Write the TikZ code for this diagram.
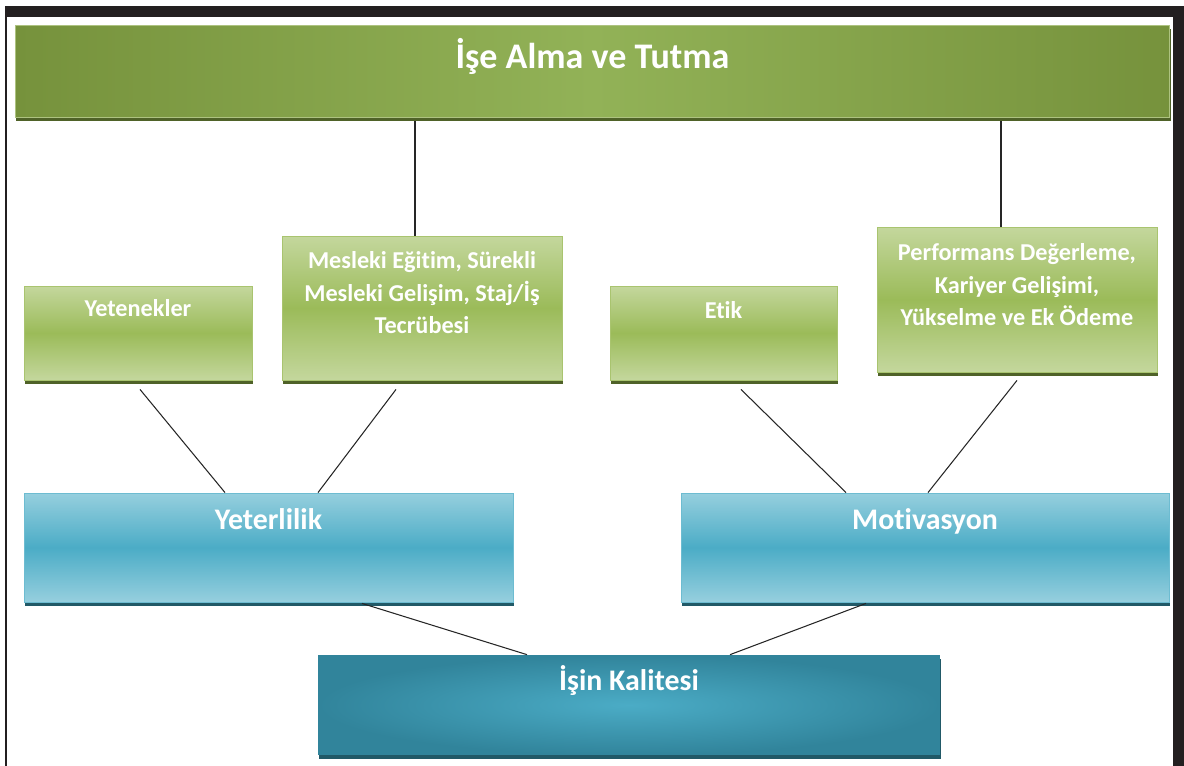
\documentclass[tikz,border=0pt]{standalone}
\usepackage{fontspec}
\setmainfont{Carlito}[Ligatures=NoCommon]
\usepackage{tikz}
\usetikzlibrary{shadows}

\definecolor{gLight}{HTML}{C4D79D}
\definecolor{gMid}{HTML}{9BBB59}
\definecolor{gEdge}{HTML}{A9C46F}
\definecolor{gShadow}{HTML}{4F6228}
\definecolor{tDark}{HTML}{76923C}
\definecolor{tLight}{HTML}{92B257}
\definecolor{bLight}{HTML}{96CFDE}
\definecolor{bMid}{HTML}{4BACC6}
\definecolor{bEdge}{HTML}{6DBCD1}
\definecolor{bShadow}{HTML}{215967}
\definecolor{kDark}{HTML}{31849B}
\definecolor{kLight}{HTML}{4BACC6}
\definecolor{frameblack}{HTML}{231F20}

\begin{document}
\begin{tikzpicture}[x=0.02cm,y=-0.02cm,
	every node/.style={rectangle,inner sep=0pt,align=center,text=white},
	greenbox/.style={draw=gEdge,line width=0.5pt,top color=gLight,bottom color=gLight,middle color=gMid,
		general shadow={fill=gShadow,shadow xshift=0.02cm,shadow yshift=-0.08cm},
		font=\bfseries\fontsize{13.8}{18.7}\selectfont},
	topbox/.style={draw=gLight!70!tDark,line width=0.5pt,left color=tDark,right color=tDark,middle color=tLight,
		general shadow={fill=gShadow,shadow xshift=0.02cm,shadow yshift=-0.08cm},
		font=\bfseries\fontsize{20.5}{24}\selectfont},
	bluebox/.style={draw=bEdge,line width=0.5pt,top color=bLight,bottom color=bLight,middle color=bMid,
		general shadow={fill=bShadow,shadow xshift=0.02cm,shadow yshift=-0.08cm},
		font=\bfseries\fontsize{17}{20}\selectfont},
	qualbox/.style={inner color=kLight,outer color=kDark,
		general shadow={fill=bShadow,shadow xshift=0.02cm,shadow yshift=-0.08cm},
		font=\bfseries\fontsize{17}{20}\selectfont},
	link/.style={draw=black!85,line width=0.6pt}]

	\useasboundingbox (0,0) rectangle (1184,766);

	% frame
	\fill[frameblack] (5,6) rectangle (1184,17);
	\fill[frameblack] (1173,6) rectangle (1184,766);
	\draw[frameblack,line width=0.04cm] (6,17) -- (6,766);

	% boxes
	\node[topbox,minimum width=23.1cm,minimum height=1.84cm,text height=0pt,text depth=0.08cm] (top) at (592.5,71) {İşe Alma ve Tutma};

	\node[greenbox,minimum width=4.56cm,minimum height=1.88cm,text height=0pt,text depth=0.68cm] (yet) at (138,333) {Yetenekler};
	\node[greenbox,minimum width=5.6cm,minimum height=2.88cm,text height=1.04cm,text depth=0pt] (mes) at (422,308) {Mesleki Eğitim, Sürekli\\Mesleki Gelişim, Staj/İş\\Tecrübesi};
	\node[greenbox,minimum width=4.54cm,minimum height=1.88cm,text height=0pt,text depth=0.56cm] (etik) at (723.5,333) {Etik};
	\node[greenbox,minimum width=5.6cm,minimum height=2.9cm,text height=1.06cm,text depth=0pt] (perf) at (1017,299.5) {Performans Değerleme,\\Kariyer Gelişimi,\\Yükselme ve Ek Ödeme};

	\node[bluebox,minimum width=9.78cm,minimum height=2.18cm,text height=0pt,text depth=0.74cm] (yeter) at (268.5,547.5) {Yeterlilik};
	\node[bluebox,minimum width=9.76cm,minimum height=2.18cm,text height=0pt,text depth=0.74cm] (motiv) at (925,547.5) {Motivasyon};

	\node[qualbox,minimum width=12.44cm,minimum height=2cm,text height=0pt,text depth=0.6cm] (kal) at (629,705) {İşin Kalitesi};

	% connectors
	\path[link] ([shift={(-7,0)}]mes.north) -- ([shift={(-7,4)}]mes.north |- top.south);
	\path[link] ([shift={(-16,0)}]perf.north) -- ([shift={(-16,4)}]perf.north |- top.south);

	\path[link] ([shift={(2,9)}]yet.south) -- ([shift={(-43.5,0)}]yeter.north);
	\path[link] ([shift={(-26,9)}]mes.south) -- ([shift={(49.5,0)}]yeter.north);
	\path[link] ([shift={(17.5,9)}]etik.south) -- ([shift={(-79,0)}]motiv.north);
	\path[link] ([shift={(0,8)}]perf.south) -- ([shift={(3,0)}]motiv.north);

	\path[link] ([shift={(93.5,1)}]yeter.south) -- ([shift={(-102,0)}]kal.north);
	\path[link] ([shift={(-59,1)}]motiv.south) -- ([shift={(101,0)}]kal.north);
\end{tikzpicture}
\end{document}
